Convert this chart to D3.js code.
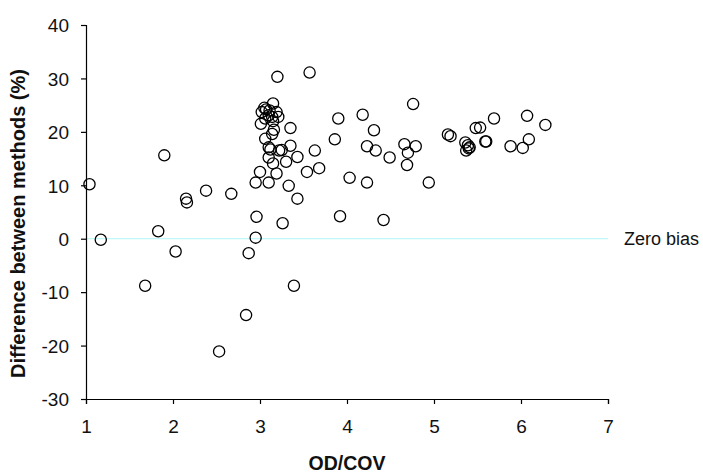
<!DOCTYPE html>
<html><head><meta charset="utf-8">
<script src="https://cdn.jsdelivr.net/npm/d3@7"></script>
<style>body{margin:0;background:#fff}svg{display:block}</style>
</head><body>
<svg id="c" width="703" height="475"></svg>
<script>
const odCov = [1.04,1.17,1.68,1.83,1.90,2.03,2.15,2.16,2.38,2.53,2.67,2.84,2.87,2.95,2.96,2.95,3.00,3.01,3.10,3.19,3.15,3.10,3.12,3.22,3.25,3.10,3.06,3.16,3.14,3.15,3.07,3.05,3.02,3.11,3.19,3.10,3.14,3.21,3.06,3.15,3.20,3.57,3.35,3.35,3.63,3.43,3.30,3.54,3.68,3.33,3.43,3.26,3.39,3.90,4.18,4.31,3.86,4.23,4.33,4.49,4.03,4.23,3.92,4.42,4.76,4.66,4.79,4.70,4.69,4.94,5.16,5.19,5.36,5.39,5.41,5.37,5.40,5.48,5.53,5.59,5.60,5.69,5.88,6.02,6.09,6.07,6.28];
const diffPct = [10.2,-0.2,-8.8,1.4,15.6,-2.4,7.5,6.8,9.0,-21.1,8.4,-14.3,-2.7,0.2,4.1,10.5,12.5,21.5,10.5,12.2,14.1,15.2,16.7,16.5,16.6,17.1,18.7,20.4,19.6,25.3,24.2,24.5,23.7,24.0,23.7,23.1,22.8,22.8,22.5,22.0,30.3,31.1,20.7,17.4,16.5,15.3,14.4,12.5,13.2,9.9,7.5,2.9,-8.8,22.5,23.2,20.3,18.6,17.3,16.5,15.2,11.4,10.5,4.2,3.5,25.2,17.7,17.3,16.1,13.8,10.5,19.5,19.2,18.0,17.5,17.1,16.5,16.9,20.7,20.8,18.2,18.2,22.5,17.3,17.0,18.6,23.0,21.3];
const xTicks = [1,2,3,4,5,6,7];
const yTicks = [-30,-20,-10,0,10,20,30,40];
const xTitle = "OD/COV";
const yTitle = "Difference between methods (%)";
const refLabel = "Zero bias";

const svg = d3.select("#c");
const x = d3.scaleLinear().domain([1,7]).range([86,608]);
const y = d3.scaleLinear().domain([-30,40]).range([399,25]);
const font = "Liberation Sans, Arial, sans-serif";

// zero line
svg.append("line").attr("x1",x(1)).attr("x2",x(7)).attr("y1",y(0)).attr("y2",y(0))
  .attr("stroke","#bff8f8").attr("stroke-width",1.2);

const fmt = d => String(d);
const xa = svg.append("g").attr("transform",`translate(0,${y(-30)})`)
  .call(d3.axisBottom(x).tickValues(xTicks).tickFormat(fmt).tickSize(5).tickSizeOuter(5));
const ya = svg.append("g").attr("transform",`translate(${x(1)},0)`)
  .call(d3.axisLeft(y).tickValues(yTicks).tickFormat(fmt).tickSize(5).tickSizeOuter(5));
[xa,ya].forEach(g=>{
  g.selectAll("path,line").attr("stroke","#000").attr("stroke-width",1.2);
  g.selectAll("text").attr("font-family",font).attr("font-size",19).attr("fill","#111");
});
xa.selectAll("text").attr("dy","0").attr("y",34);
ya.selectAll("text").attr("x",-17).attr("dy","0.36em");

// points
svg.append("g").selectAll("circle").data(odCov.map((d,i)=>[d,diffPct[i]])).join("circle")
  .attr("cx",d=>x(d[0])).attr("cy",d=>y(d[1])).attr("r",5.6)
  .attr("fill","none").attr("stroke","#000").attr("stroke-width",1.3);

svg.append("text").attr("x",624).attr("y",y(0)+6.5).attr("font-family",font)
  .attr("font-size",18).attr("fill","#111").text(refLabel);

svg.append("text").attr("x",(x(1)+x(7))/2).attr("y",470).attr("text-anchor","middle")
  .attr("font-family",font).attr("font-size",19.5).attr("font-weight","bold").attr("fill","#111").text(xTitle);

svg.append("text").attr("transform",`translate(25,${223.5}) rotate(-90)`).attr("text-anchor","middle")
  .attr("font-family",font).attr("font-size",20).attr("font-weight","bold").attr("fill","#111").text(yTitle);
</script>
</body></html>
